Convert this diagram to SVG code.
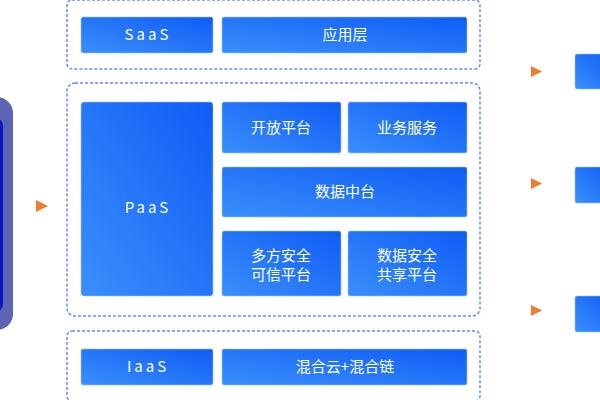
<svg xmlns="http://www.w3.org/2000/svg" width="600" height="400" viewBox="0 0 600 400">
<defs>
<linearGradient id="g" x1="0" y1="1" x2="1" y2="0"><stop offset="0" stop-color="#3a8ffa"/><stop offset="1" stop-color="#0f5cf6"/></linearGradient>
</defs>
<style>
.c{fill:none;stroke:#5a93f0;stroke-width:1.5;stroke-dasharray:3 2}
.b{fill:url(#g);stroke:#9cc2fb;stroke-width:0.6}
.t{fill:#fff;font-family:"Noto Sans CJK SC","Liberation Sans",sans-serif;font-size:15px;text-anchor:middle}
.l{letter-spacing:3px}
.a{fill:#f07d2c}
</style>
<rect width="600" height="400" fill="#fff"/>
<g id="left"><rect x="-40" y="97" width="53" height="233" rx="16" fill="#5e64b4"/><rect x="-40" y="118" width="43" height="194" rx="8" fill="#0c16c2"/></g>
<g id="connectors">
<path class="a" d="M36,200 L48,206 L36,212 Z"/>
<path class="a" d="M531,66 L542,71.5 L531,77 Z"/>
<path class="a" d="M531,178 L542,183.5 L531,189 Z"/>
<path class="a" d="M531,305 L542,310.5 L531,316 Z"/>
</g>
<g id="saas"><rect class="c" x="67" y="0" width="413" height="69" rx="5"/>
<rect class="b" x="81" y="17" width="132" height="36" rx="2"/><text class="t l" x="148" y="40">SaaS</text>
<rect class="b" x="222" y="17" width="245" height="36" rx="2"/><text class="t" x="345" y="40">应用层</text></g>
<g id="paas"><rect class="c" x="67" y="83" width="413" height="233" rx="8"/>
<rect class="b" x="81" y="102" width="132" height="194" rx="3"/><text class="t l" x="148" y="213">PaaS</text>
<rect class="b" x="222" y="102" width="119" height="51" rx="2"/><text class="t" x="281" y="133">开放平台</text>
<rect class="b" x="348" y="102" width="119" height="51" rx="2"/><text class="t" x="407" y="133">业务服务</text>
<rect class="b" x="222" y="167" width="245" height="50" rx="2"/><text class="t" x="345" y="197">数据中台</text>
<rect class="b" x="222" y="231" width="119" height="65" rx="2"/><text class="t" x="281" y="261">多方安全</text><text class="t" x="281" y="280">可信平台</text>
<rect class="b" x="348" y="231" width="119" height="65" rx="2"/><text class="t" x="407" y="261">数据安全</text><text class="t" x="407" y="280">共享平台</text></g>
<g id="iaas"><rect class="c" x="67" y="331" width="413" height="70" rx="5"/>
<rect class="b" x="81" y="349" width="132" height="36" rx="2"/><text class="t l" x="148" y="372">IaaS</text>
<rect class="b" x="222" y="349" width="245" height="36" rx="2"/><text class="t" x="345" y="372">混合云+混合链</text></g>
<g id="right">
<rect class="b" x="575" y="54" width="40" height="35" rx="2"/>
<rect class="b" x="575" y="167" width="40" height="36" rx="2"/>
<rect class="b" x="575" y="296" width="40" height="36" rx="2"/>
</g>
</svg>
